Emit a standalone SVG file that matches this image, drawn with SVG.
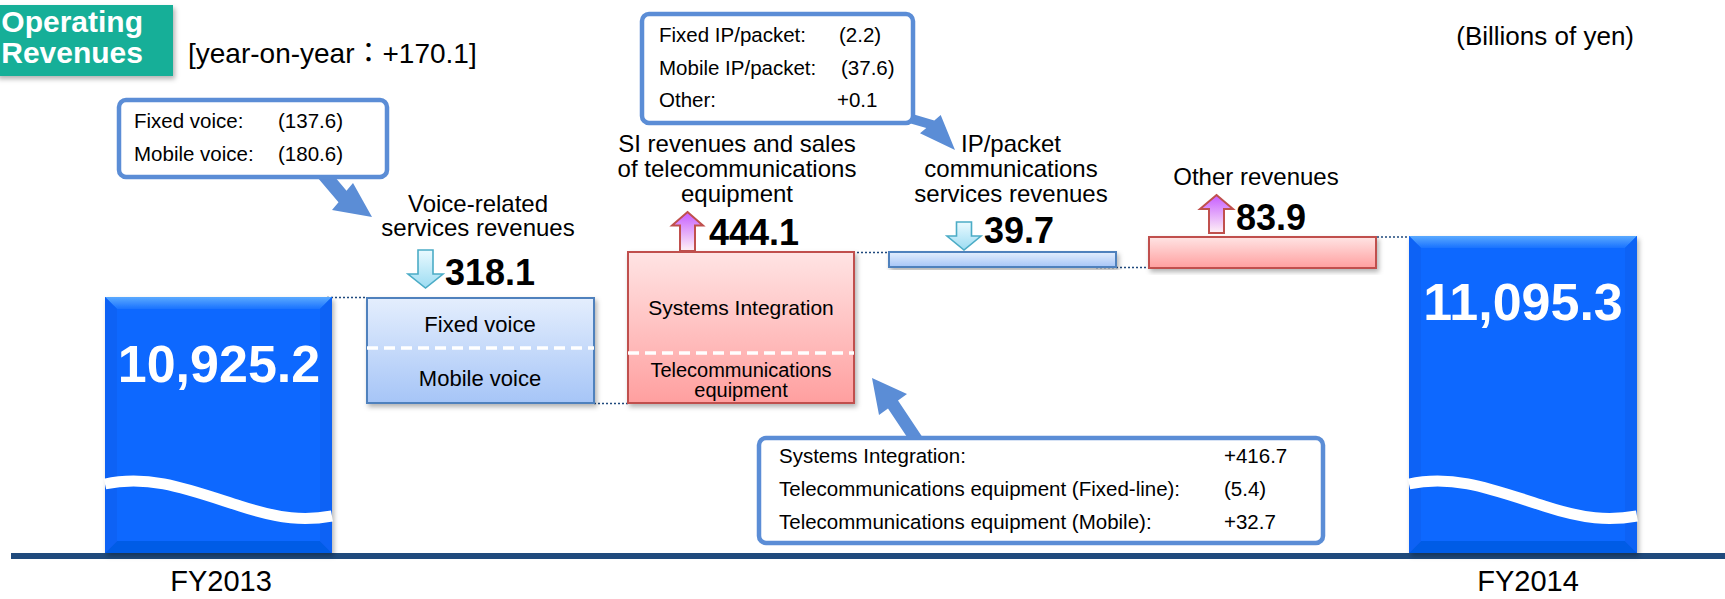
<svg xmlns="http://www.w3.org/2000/svg" width="1725" height="599" viewBox="0 0 1725 599">
<style>
text{font-family:"Liberation Sans",Arial,"Noto Sans CJK JP",sans-serif;fill:#000}
.lbl{font-size:24px;text-anchor:middle}
.num{font-size:36px;font-weight:bold}
.big{font-size:52px;font-weight:bold;fill:#fff;text-anchor:middle}
.co{font-size:20.5px}
.in{font-size:22px;text-anchor:middle}
.in2{font-size:21px;text-anchor:middle}
.in3{font-size:20px;text-anchor:middle}
.fy{font-size:29px;text-anchor:middle}
.callout{fill:#fff;stroke:#5B8DD6;stroke-width:4.5}
.ptr{fill:#5B8DD6}
.dot{stroke:#1F497D;stroke-width:1.5;stroke-dasharray:2 2;fill:none}
.blueBox{fill:url(#gBlue);stroke:#4F81BD;stroke-width:2}
.redBox{fill:url(#gRed);stroke:#C0504D;stroke-width:2}
.dash{stroke:#fff;stroke-width:3.5;stroke-dasharray:11 6}
.down{fill:url(#gCyan);stroke:#4BACC6;stroke-width:1.6}
.up{fill:url(#gPurple);stroke:#C0504D;stroke-width:2}
.wave{fill:none;stroke:#fff;stroke-width:11}
.ttl{font-size:30px;font-weight:bold;fill:#fff;text-anchor:end}
</style>
<defs>
<linearGradient id="gBlue" x1="0" y1="0" x2="0" y2="1"><stop offset="0" stop-color="#E4EEFD"/><stop offset="1" stop-color="#A6C5F7"/></linearGradient>
<linearGradient id="gRed" x1="0" y1="0" x2="0" y2="1"><stop offset="0" stop-color="#FFE4E4"/><stop offset="1" stop-color="#FF9F9F"/></linearGradient>
<linearGradient id="gCyan" x1="0" y1="0" x2="0" y2="1"><stop offset="0" stop-color="#EAFAFF"/><stop offset="1" stop-color="#9CDCF2"/></linearGradient>
<linearGradient id="gPurple" x1="0" y1="0" x2="0" y2="1"><stop offset="0" stop-color="#C65CFF"/><stop offset="1" stop-color="#FFF2F6"/></linearGradient>
<linearGradient id="gTop" x1="0" y1="0" x2="0" y2="1"><stop offset="0" stop-color="#5AAAFF"/><stop offset="1" stop-color="#1A72FF"/></linearGradient>
<filter id="sh" x="-10%" y="-10%" width="130%" height="130%"><feDropShadow dx="2" dy="3" stdDeviation="2.5" flood-color="#000" flood-opacity="0.3"/></filter>
</defs>

<g id="connectors">
<line class="dot" x1="327" y1="297.5" x2="367" y2="297.5"/>
<line class="dot" x1="594" y1="403.5" x2="628" y2="403.5"/>
<line class="dot" x1="841" y1="252.5" x2="889" y2="252.5"/>
<line class="dot" x1="1096" y1="267.5" x2="1149" y2="267.5"/>
<line class="dot" x1="1353" y1="237" x2="1430" y2="237"/>
<polygon class="ptr" points="324,164 346.5,190.8 353,183 372,217 332,210 338.5,202.2 316,175.7"/>
<polygon class="ptr" points="909,113 934.3,120.4 940.7,115 955,150 920,133.3 926.3,128 901,120.8"/>
<polygon class="ptr" points="925,441 898,400.5 907,394 872,378 879,415 888,408.5 915,449"/>
</g>

<g id="axis">
<rect x="11" y="553" width="1714" height="6" fill="#1F4A7C"/>
</g>

<g id="title">
<rect x="-4" y="5" width="177" height="71" fill="#17AF98" filter="url(#sh)"/>
<text class="ttl" x="143" y="32">Operating</text>
<text class="ttl" x="143" y="63">Revenues</text>
</g>
<text x="188" y="63" style="font-size:28px">[year-on-year：+170.1]</text>
<text x="1634" y="45" style="font-size:26px;text-anchor:end">(Billions of yen)</text>

<g id="fy2013">
<g filter="url(#sh)">
<rect x="105" y="297" width="227" height="256" fill="#0A68FF"/>
<polygon points="105,297 332,297 320,309 117,309" fill="url(#gTop)"/>
<polygon points="105,297 117,309 117,541 105,553" fill="#0862F5"/>
<polygon points="332,297 320,309 320,541 332,553" fill="#0862F5"/>
<polygon points="105,553 117,541 320,541 332,553" fill="#065BE6"/>
</g>
<path class="wave" d="M105,484 C150,474 190,490 240,506 C280,519 305,521 332,516"/>
<text class="big" x="219" y="382">10,925.2</text>
<text class="fy" x="221" y="591">FY2013</text>
</g>

<g id="voice">
<text class="lbl" x="478" y="212">Voice-related</text>
<text class="lbl" x="478" y="236">services revenues</text>
<path class="down" d="M418,250 H433 V274 H443 L425.5,288 L408,274 H418 Z"/>
<text class="num" x="445" y="285">318.1</text>
<rect class="blueBox" x="367" y="298" width="227" height="105" filter="url(#sh)"/>
<line class="dash" x1="367" y1="348" x2="594" y2="348"/>
<text class="in" x="480" y="332">Fixed voice</text>
<text class="in" x="480" y="386">Mobile voice</text>
</g>

<g id="voiceCallout">
<rect class="callout" x="119" y="100" width="268" height="77" rx="7"/>
<text class="co" x="134" y="128">Fixed voice:</text>
<text class="co" x="278" y="128">(137.6)</text>
<text class="co" x="134" y="161">Mobile voice:</text>
<text class="co" x="278" y="161">(180.6)</text>
</g>

<g id="si">
<text class="lbl" x="737" y="152">SI revenues and sales</text>
<text class="lbl" x="737" y="177">of telecommunications</text>
<text class="lbl" x="737" y="202">equipment</text>
<path class="up" d="M687.5,212 L703,225.5 H695 V251 H680 V225.5 H672 Z"/>
<text class="num" x="709" y="245">444.1</text>
<rect class="redBox" x="628" y="252" width="226" height="151" filter="url(#sh)"/>
<line class="dash" x1="628" y1="353" x2="854" y2="353"/>
<text class="in2" x="741" y="315">Systems Integration</text>
<text class="in3" x="741" y="377">Telecommunications</text>
<text class="in3" x="741" y="397">equipment</text>
</g>

<g id="siCallout">
<rect class="callout" x="759" y="438" width="564" height="105" rx="7"/>
<text class="co" x="779" y="463">Systems Integration:</text>
<text class="co" x="1224" y="463">+416.7</text>
<text class="co" x="779" y="496">Telecommunications equipment (Fixed-line):</text>
<text class="co" x="1224" y="496">(5.4)</text>
<text class="co" x="779" y="529">Telecommunications equipment (Mobile):</text>
<text class="co" x="1224" y="529">+32.7</text>
</g>

<g id="ip">
<text class="lbl" x="1011" y="152">IP/packet</text>
<text class="lbl" x="1011" y="177">communications</text>
<text class="lbl" x="1011" y="202">services revenues</text>
<path class="down" d="M956.5,222 H971.5 V236 H981 L964,250 L947,236 H956.5 Z"/>
<text class="num" x="984" y="243">39.7</text>
<rect class="blueBox" x="889" y="252" width="227" height="15" filter="url(#sh)"/>
</g>

<g id="ipCallout">
<rect class="callout" x="642" y="14" width="271" height="109" rx="7"/>
<text class="co" x="659" y="42">Fixed IP/packet:</text>
<text class="co" x="839" y="42">(2.2)</text>
<text class="co" x="659" y="75">Mobile IP/packet:</text>
<text class="co" x="841" y="75">(37.6)</text>
<text class="co" x="659" y="107">Other:</text>
<text class="co" x="837" y="107">+0.1</text>
</g>

<g id="other">
<text class="lbl" x="1256" y="185">Other revenues</text>
<path class="up" d="M1216.5,195 L1233,209 H1224 V233 H1209 V209 H1200 Z"/>
<text class="num" x="1236" y="230">83.9</text>
<rect class="redBox" x="1149" y="237" width="227" height="31" filter="url(#sh)"/>
</g>

<g id="fy2014">
<g filter="url(#sh)">
<rect x="1409" y="236" width="228" height="317" fill="#0A68FF"/>
<polygon points="1409,236 1637,236 1625,248 1421,248" fill="url(#gTop)"/>
<polygon points="1409,236 1421,248 1421,541 1409,553" fill="#0862F5"/>
<polygon points="1637,236 1625,248 1625,541 1637,553" fill="#0862F5"/>
<polygon points="1409,553 1421,541 1625,541 1637,553" fill="#065BE6"/>
</g>
<path class="wave" d="M1409,484 C1454,474 1494,490 1544,506 C1584,519 1609,521 1637,516"/>
<text class="big" x="1523" y="320">11,095.3</text>
<text class="fy" x="1528" y="591">FY2014</text>
</g>
</svg>
